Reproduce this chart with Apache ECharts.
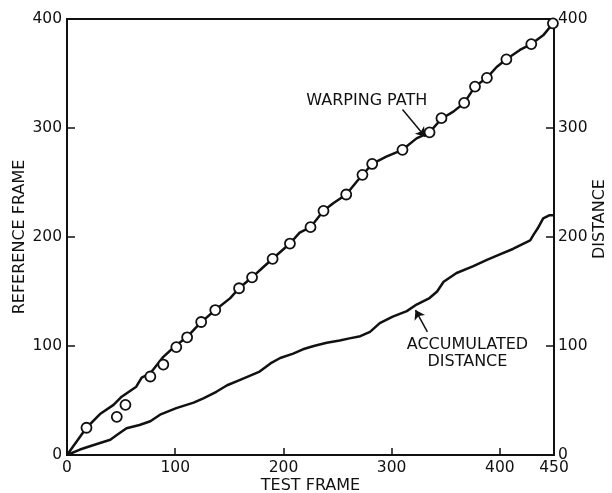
<!DOCTYPE html>
<html>
<head>
<meta charset="utf-8">
<script src="https://cdn.jsdelivr.net/npm/echarts@6/dist/echarts.min.js"></script>
<style>
html,body{margin:0;padding:0;background:#fff;}
#main{width:612px;height:493px;}
</style>
</head>
<body>
<div id="main"></div>
<script>
// warping path (test frame, reference frame)
var warpX = [0,18,30.5,43,50.5,64,69,77,83,89,100,110.6,123,137,150.6,159,171,181,190,206,215,225,237,246,258,267.6,273,282,295,310,323,335,346,357,367,377,388,397,406,418.5,429,440,450];
var warpY = [0,25,37.6,46,53.5,62.7,71,75,82.6,90,100,108,121,133,143.7,153,163,172,180,194,204,209,224,231,239,250.7,257,267,273.7,280,290.5,296,308.5,315,323,338,346,356,363,371.6,377,385,397];
// circled points on the path
var circX = [18,46,54,77,89,101,111,124,137,159,171,190,206,225,237,258,273,282,310,335,346,367,377,388,406,429,449];
var circY = [25,35,46,72,83,99,108,122,133,153,163,180,194,209,224,239,257,267,280,296,309,323,338,346,363,377,396];
// accumulated distance
var distX = [0,12,24,40,47,55,67,77,86,101,117,126,138,148,160,178,188,197,209,218,228,240,252,261,271,280,289,301,314,323,335,342,348,360,375,388,400,412,428,431,435,440,446,450];
var distY = [0,5,9,14,19,24.5,27.5,31,37,43,48,52,58,64,69,76.5,84,89,93,97,100,103,105,107,109,113,121,127,132,138,144,150,159,167,173,179,184,189,197,202,208,217,220,220];

function pairs(xs, ys) {
    var out = [];
    for (var i = 0; i < xs.length; i++) out.push([xs[i], ys[i]]);
    return out;
}

var myChart = echarts.init(document.getElementById('main'));
var font = 'DejaVu Sans';
var txt = {color: '#111', fontFamily: font, fontSize: 16};
var tickLabel = {color: '#111', fontFamily: font, fontSize: 15.5, margin: 5};

var option = {
    animation: false,
    backgroundColor: '#fff',
    grid: {
        left: 67, right: 58, top: 19, bottom: 38,
        outerBoundsMode: 'none', containLabel: false,
        show: true, borderColor: '#111', borderWidth: 2
    },
    xAxis: {
        type: 'value', min: 0, max: 450, interval: 100,
        name: 'TEST FRAME', nameLocation: 'middle', nameGap: 23,
        nameMoveOverlap: false,
        nameTextStyle: txt,
        axisLine: {lineStyle: {color: '#111', width: 2}},
        axisTick: {inside: true, length: 7, lineStyle: {color: '#111', width: 1.5}},
        axisLabel: tickLabel,
        splitLine: {show: false}
    },
    yAxis: [{
        type: 'value', min: 0, max: 400, interval: 100,
        name: 'REFERENCE FRAME', nameLocation: 'middle', nameGap: 39,
        nameMoveOverlap: false,
        nameTextStyle: txt,
        axisLine: {show: true, lineStyle: {color: '#111', width: 2}},
        axisTick: {show: true, inside: true, length: 8, lineStyle: {color: '#111', width: 1.5}},
        axisLabel: tickLabel,
        splitLine: {show: false}
    }, {
        type: 'value', min: 0, max: 400, interval: 100, position: 'right',
        name: 'DISTANCE', nameLocation: 'middle', nameGap: 38,
        nameMoveOverlap: false,
        nameTextStyle: {color: '#111', fontFamily: font, fontSize: 16, padding: [0, 0, 0, 36]},
        axisLine: {show: true, lineStyle: {color: '#111', width: 2}},
        axisTick: {show: true, inside: true, length: 8, lineStyle: {color: '#111', width: 1.5}},
        axisLabel: {color: '#111', fontFamily: font, fontSize: 15.5, margin: 4},
        splitLine: {show: false}
    }],
    series: [{
        name: 'warping path',
        type: 'line',
        data: pairs(warpX, warpY),
        symbol: 'none',
        lineStyle: {color: '#111', width: 2.5},
        markLine: {
            silent: true, symbol: ['none', 'arrow'], symbolSize: 9,
            lineStyle: {color: '#111', width: 1.5, type: 'solid'},
            label: {show: false},
            data: [[{coord: [310, 317]}, {coord: [331, 292]}]]
        },
        markPoint: {
            symbolSize: 0,
            label: {show: true, formatter: 'WARPING PATH', color: '#111', fontFamily: font, fontSize: 16},
            data: [{coord: [277, 325]}]
        }
    }, {
        name: 'points',
        type: 'scatter',
        data: pairs(circX, circY),
        symbol: 'circle', symbolSize: 10,
        itemStyle: {color: '#fff', borderColor: '#111', borderWidth: 1.8, opacity: 1},
        z: 3
    }, {
        name: 'accumulated distance',
        type: 'line',
        yAxisIndex: 1,
        data: pairs(distX, distY),
        symbol: 'none',
        lineStyle: {color: '#111', width: 2.5},
        markLine: {
            silent: true, symbol: ['none', 'arrow'], symbolSize: 9,
            lineStyle: {color: '#111', width: 1.5, type: 'solid'},
            label: {show: false},
            data: [[{coord: [333, 113]}, {coord: [322, 133]}]]
        },
        markPoint: {
            symbolSize: 0,
            label: {show: true, formatter: 'ACCUMULATED\nDISTANCE', color: '#111', fontFamily: font, fontSize: 16, lineHeight: 17, align: 'center'},
            data: [{coord: [370, 93]}]
        }
    }]
};

myChart.setOption(option);
window.addEventListener('resize', function () {
    myChart.resize();
});
</script>
</body>
</html>
